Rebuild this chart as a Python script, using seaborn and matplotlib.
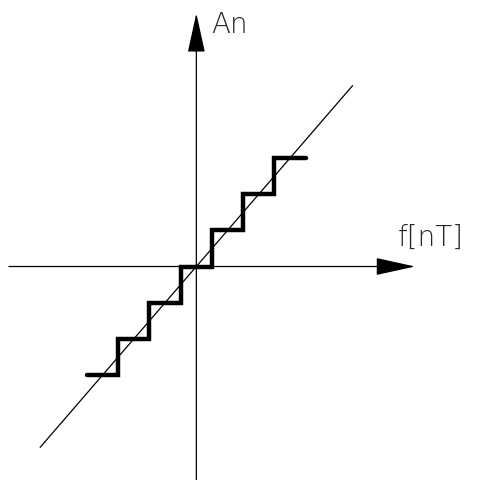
import matplotlib
matplotlib.use("Agg")
import matplotlib.pyplot as plt
import seaborn as sns
import numpy as np
import pandas as pd

# --- data ---
step_edges = [-3.5, -2.5, -1.5, -0.5, 0.5, 1.5, 2.5, 3.5]
step_levels = [-3, -2, -1, 0, 1, 2, 3, 3]
diag_x = [-5, 5]
diag_y = [-5, 5]
x_axis_range = [-6, 7]
y_axis_range = [-6.2, 7]
x_label = "f[nT]"
y_label = "An"

sns.set_style("white")
plt.rcParams['font.family'] = ['DejaVu Sans']

fig = plt.figure(figsize=(4.78, 4.81), dpi=100)
ax = fig.add_axes([0, 0, 1, 1])

# axes with arrows
arrow_kw = dict(arrowstyle='-|>,head_length=2.5,head_width=0.55', mutation_scale=10,
                lw=0.9, color='black', shrinkA=0, shrinkB=0)
ax.annotate("", xy=(x_axis_range[1], 0), xytext=(x_axis_range[0], 0), arrowprops=arrow_kw)
ax.annotate("", xy=(0, y_axis_range[1]), xytext=(0, y_axis_range[0]), arrowprops=arrow_kw)

# diagonal
diag = pd.DataFrame({"x": diag_x, "y": diag_y})
sns.lineplot(data=diag, x="x", y="y", ax=ax, color='black', lw=0.9, estimator=None)

# staircase
stairs = pd.DataFrame({"x": step_edges, "y": step_levels})
sns.lineplot(data=stairs, x="x", y="y", ax=ax, color='black', lw=3.2,
             drawstyle='steps-post', estimator=None, solid_joinstyle='miter')

# pixel mapping: origin at (196.35, 267.5), 31.24 px/unit in x, 36.17 px/unit in y
ax.set_xlim(-196.35 / 31.24, (478 - 196.35) / 31.24)
ax.set_ylim((267.5 - 481) / 36.17, 267.5 / 36.17)
ax.set_axis_off()

ax.text(0.47, 6.47, y_label, fontsize=20, fontweight='light', ha='left', va='baseline')
ax.text(6.45, 0.6, x_label, fontsize=20, fontweight='light', ha='left', va='baseline')

fig.savefig("out.png", dpi=100, facecolor='white')
